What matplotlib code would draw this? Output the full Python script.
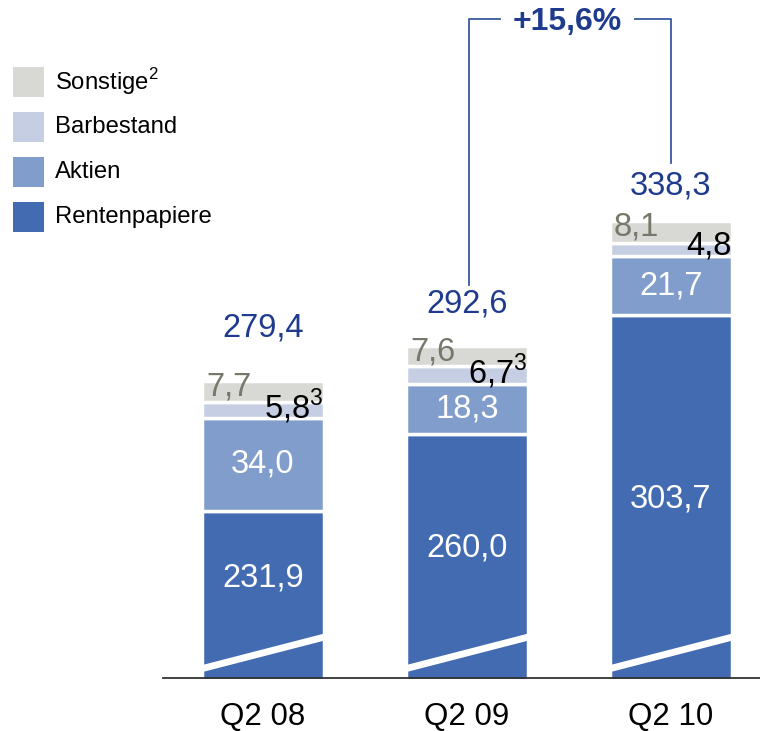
import matplotlib
matplotlib.use("Agg")
import matplotlib.pyplot as plt
from matplotlib.patches import Polygon

plt.rcParams['font.family'] = ['Liberation Sans', 'DejaVu Sans']

quarters = ["Q2 08", "Q2 09", "Q2 10"]
renten = [231.9, 260.0, 303.7]
aktien = [34.0, 18.3, 21.7]
barbestand = [5.8, 6.7, 4.8]
sonstige = [7.7, 7.6, 8.1]
totals = ["279,4", "292,6", "338,3"]
bar_note = ["3", "3", ""]
growth = "+15,6%"

c_renten = "#436bb2"
c_aktien = "#809dcc"
c_bar = "#c5cee3"
c_sonst = "#d8d9d4"
c_total = "#1f3b8d"
c_gray = "#77776a"

def fmt(v):
    return ("%.1f" % v).replace(".", ",")

W, H = 760, 731
fig = plt.figure(figsize=(W / 100, H / 100), dpi=100)
# y axis starts at 170 (broken axis), 2.72 px per unit
ax = fig.add_axes([0, 52 / H, 1, 679 / H])
y0 = 170
ax.set_ylim(y0, y0 + 679 / 2.72)
ax.set_xlim(-263 / 204, (W - 263) / 204)
ax.axis("off")

x = list(range(len(quarters)))
bw = 0.60
edge = dict(edgecolor="white", linewidth=2.5)
ax.bar(x, renten, bw, bottom=0, color=c_renten, **edge)
b2 = renten
ax.bar(x, aktien, bw, bottom=b2, color=c_aktien, **edge)
b3 = [a + b for a, b in zip(renten, aktien)]
ax.bar(x, barbestand, bw, bottom=b3, color=c_bar, **edge)
b4 = [a + b for a, b in zip(b3, barbestand)]
ax.bar(x, sonstige, bw, bottom=b4, color=c_sonst, **edge)
tops = [a + b for a, b in zip(b4, sonstige)]

# baseline
ax.plot([-0.49, 3], [y0 + 0.4, y0 + 0.4], color="#333333", lw=1.3, clip_on=False)

# break stripes
for i in x:
    xl, xr = i - bw / 2 - 0.01, i + bw / 2 + 0.01
    ax.add_patch(Polygon([(xl, 172.3), (xr, 184.3), (xr, 186.9), (xl, 174.9)],
                         closed=True, facecolor="white", edgecolor="none", zorder=3))

ren_lab_y = [y0 + 37, y0 + 48, y0 + 66]
tot_off = [19.5, 15.1, 12.9]
for i in x:
    ax.text(i, ren_lab_y[i], fmt(renten[i]), color="white", fontsize=23.5,
            ha="center", va="center")
    ax.text(i, b2[i] + aktien[i] / 2, fmt(aktien[i]), color="white", fontsize=23.5,
            ha="center", va="center")
    ax.text(i - bw / 2 + 0.02, tops[i] - 2.2, fmt(sonstige[i]), color=c_gray,
            fontsize=23.5, ha="left", va="center")
    lab = fmt(barbestand[i])
    if bar_note[i]:
        lab = lab + r"$^{\mathregular{" + bar_note[i] + "}}$"
    ax.text(i + bw / 2 - 0.005, b3[i] + barbestand[i] / 2 + 1.5, lab, color="black",
            fontsize=23.5, ha="right", va="center")
    ax.text(i, tops[i] + tot_off[i], totals[i], color=c_total, fontsize=23.5,
            ha="center", va="center")

# growth bracket
yb = y0 + (679 - 19) / 2.72
lc = "#3a58a0"
ax.plot([1.011, 1.011, 1.164], [314.9, yb, yb], color=lc, lw=1.3)
ax.plot([1.824, 2.0, 2.0], [yb, yb, 359.7], color=lc, lw=1.3)
ax.text(1.49, yb - 1.0, growth, color=c_total, fontsize=23, fontweight="bold",
        ha="center", va="center")

for i, q in enumerate(quarters):
    ax.text(i, y0 - 14, q, fontsize=22.5, ha="center", va="center", color="black")

# legend
leg = [("Sonstige", c_sonst, "2"), ("Barbestand", c_bar, ""),
       ("Aktien", c_aktien, ""), ("Rentenpapiere", c_renten, "")]
for k, (name, col, sup) in enumerate(leg):
    yc = 82 + k * 45
    fig.patches.append(plt.Rectangle((13 / W, 1 - (yc + 15) / H), 31 / W, 30 / H,
                                     transform=fig.transFigure, facecolor=col,
                                     edgecolor="none"))
    t = name
    if sup:
        t = name + r"$^{\mathregular{" + sup + "}}$"
    fig.text(55 / W, 1 - yc / H, t, fontsize=17.2, ha="left", va="center")

fig.savefig("out.png", dpi=100)
